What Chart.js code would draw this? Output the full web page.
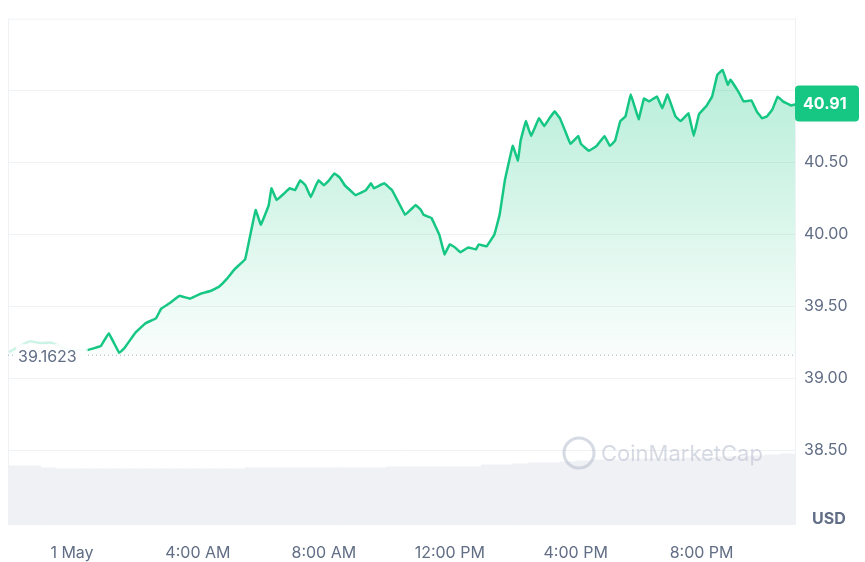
<!DOCTYPE html>
<html>
<head>
<meta charset="utf-8">
<script src="https://cdn.jsdelivr.net/npm/chart.js@4"></script>
<style>
  body { margin: 0; background: #fff; }
  #wrap { width: 865px; height: 562px; }
</style>
</head>
<body>
<div id="wrap"><canvas id="priceChart"></canvas></div>
<script>
// minutes from midnight, 1 May
const times = [-120, -100, -80, -60, -40, -20, 0, 30, 55, 70, 90, 100, 120, 140, 160, 170, 185, 205, 225, 245,
  265, 280, 295, 310, 330, 340, 350, 360, 375, 380, 390, 405, 415, 425, 435, 445, 455, 465, 470, 480,
  490, 500, 510, 520, 530, 540, 560, 570, 575, 595, 610, 620, 635, 645, 655, 665, 670, 685, 700, 710,
  720, 730, 740, 755, 770, 775, 790, 805, 815, 825, 840, 850, 855, 865, 875, 890, 900, 910, 920, 930,
  940, 950, 965, 970, 985, 1000, 1015, 1025, 1035, 1045, 1055, 1065, 1080, 1090, 1100, 1115, 1125, 1135, 1150, 1160,
  1175, 1185, 1195, 1210, 1220, 1230, 1240, 1250, 1255, 1270, 1280, 1295, 1305, 1315, 1325, 1335, 1345, 1355, 1370, 1380];
const prices = [39.185, 39.226, 39.260, 39.247, 39.25, 39.22, 39.20, 39.199, 39.226, 39.315, 39.178, 39.212, 39.315, 39.384, 39.418, 39.486, 39.521, 39.575, 39.555, 39.589,
  39.610, 39.637, 39.692, 39.760, 39.829, 40.000, 40.171, 40.068, 40.205, 40.322, 40.240, 40.288, 40.322, 40.308, 40.377, 40.342, 40.260, 40.342, 40.377, 40.342,
  40.377, 40.425, 40.397, 40.342, 40.308, 40.274, 40.308, 40.356, 40.322, 40.356, 40.308, 40.240, 40.137, 40.171, 40.205, 40.171, 40.137, 40.116, 40.000, 39.863,
  39.932, 39.911, 39.877, 39.911, 39.897, 39.932, 39.918, 40.000, 40.137, 40.377, 40.616, 40.514, 40.651, 40.788, 40.685, 40.808, 40.753, 40.808, 40.856, 40.808,
  40.719, 40.630, 40.685, 40.630, 40.582, 40.616, 40.685, 40.616, 40.651, 40.788, 40.822, 40.973, 40.801, 40.945, 40.925, 40.959, 40.877, 40.973, 40.822, 40.788,
  40.842, 40.685, 40.836, 40.897, 40.959, 41.110, 41.144, 41.041, 41.075, 40.993, 40.925, 40.932, 40.856, 40.808, 40.822, 40.870, 40.959, 40.925, 40.897, 40.904];
// volume, arbitrary units, one bar per 30 min
const volTimes = [];
for (let t = -105; t <= 1380; t += 30) volTimes.push(t);
const volumes = [59, 59, 57, 56, 56, 56, 56, 56, 56, 56, 56, 56, 56, 56, 56, 57, 57, 57, 57, 57,
  57, 57, 57, 57, 58, 58, 58, 58, 58, 58, 60, 60, 61, 62, 62, 63, 64, 65, 65, 66,
  66, 66, 66, 67, 67, 68, 68, 69, 70, 71];
const xTickLabels = { 0: "1 May", 240: "4:00 AM", 480: "8:00 AM", 720: "12:00 PM", 960: "4:00 PM", 1200: "8:00 PM" };
const openPrice = 39.1623;
const lastPrice = 40.91;

const GREEN = "#16c784";
const GREY = "#616e85";

const overlay = {
  id: "overlay",
  beforeDatasetsDraw(chart) {
    const { ctx, chartArea } = chart;
    ctx.save();
    ctx.strokeStyle = "#eff2f5";
    ctx.lineWidth = 1;
    ctx.strokeRect(chartArea.left + 0.5, chartArea.top + 0.5, chartArea.width, chartArea.height);
    ctx.restore();
  },
  afterDatasetsDraw(chart) {
    const { ctx, chartArea, scales } = chart;
    const y0 = scales.y.getPixelForValue(openPrice);
    ctx.save();
    // dotted open line
    ctx.strokeStyle = "#a6b0c3";
    ctx.setLineDash([1, 3]);
    ctx.lineWidth = 1;
    ctx.beginPath();
    ctx.moveTo(chartArea.left, y0);
    ctx.lineTo(chartArea.right, y0);
    ctx.stroke();
    ctx.setLineDash([]);
    ctx.fillStyle = "rgba(255,255,255,0.85)";
    ctx.fillRect(16, y0 - 11, 70, 20);
    ctx.fillStyle = GREY;
    ctx.font = "16px Inter, 'Noto Sans', sans-serif";
    ctx.textBaseline = "middle";
    ctx.fillText(openPrice.toFixed(4), 18, y0 + 2);
    // watermark
    ctx.fillStyle = "rgba(180,188,204,0.55)";
    ctx.font = "22px Inter, 'Noto Sans', sans-serif";
    ctx.fillText("CoinMarketCap", 601, 454);
    ctx.strokeStyle = "rgba(180,188,204,0.55)";
    ctx.lineWidth = 3;
    ctx.beginPath();
    ctx.arc(579, 453, 15, 0, Math.PI * 2);
    ctx.stroke();
    // last price tag
    const yl = scales.y.getPixelForValue(lastPrice);
    ctx.fillStyle = GREEN;
    ctx.beginPath();
    ctx.roundRect(795, yl - 18, 64, 36, 4);
    ctx.fill();
    ctx.fillStyle = "#fff";
    ctx.font = "bold 16px Inter, 'Noto Sans', sans-serif";
    ctx.fillText(lastPrice.toFixed(2), 803, yl + 1);
    // unit
    ctx.fillStyle = GREY;
    ctx.font = "bold 16px Inter, 'Noto Sans', sans-serif";
    ctx.fillText("USD", 812, 519);
    ctx.restore();
  }
};

document.addEventListener("DOMContentLoaded", function () {
  const canvas = document.getElementById("priceChart");
  const ctx = canvas.getContext("2d");
  const grad = ctx.createLinearGradient(0, 60, 0, 360);
  grad.addColorStop(0, "rgba(22,199,132,0.32)");
  grad.addColorStop(1, "rgba(22,199,132,0.02)");

  new Chart(ctx, {
    data: {
      datasets: [
        {
          type: "line",
          data: times.map((t, i) => ({ x: t, y: prices[i] })),
          borderColor: GREEN,
          borderWidth: 2.5,
          pointRadius: 0,
          tension: 0.05,
          fill: { target: { value: openPrice } },
          backgroundColor: grad,
          segment: {
            borderColor: (c) => (c.p1.parsed.x <= 30 ? "rgba(22,199,132,0.2)" : GREEN)
          },
          yAxisID: "y",
          order: 1
        },
        {
          type: "bar",
          data: volTimes.map((t, i) => ({ x: t, y: volumes[i] })),
          backgroundColor: "#f0f1f4",
          barPercentage: 1,
          categoryPercentage: 1,
          yAxisID: "yv",
          order: 2
        }
      ]
    },
    options: {
      responsive: true,
      maintainAspectRatio: false,
      animation: false,
      layout: { padding: { top: 12, left: 8 } },
      plugins: { legend: { display: false }, tooltip: { enabled: false } },
      scales: {
        x: {
          type: "linear",
          min: -122,
          max: 1378,
          offset: false,
          grid: { display: false },
          border: { color: "#eff2f5" },
          afterBuildTicks: (axis) => { axis.ticks = Object.keys(xTickLabels).map((v) => ({ value: +v })); },
          afterFit: (axis) => { axis.height = 38; },
          ticks: {
            color: GREY,
            font: { size: 16, family: "Inter, 'Noto Sans', sans-serif" },
            maxRotation: 0,
            padding: 12,
            callback: (v) => xTickLabels[v] || ""
          }
        },
        y: {
          position: "right",
          min: 37.99,
          max: 41.5,
          grid: { color: "#eff2f5", drawTicks: false },
          border: { color: "#eff2f5" },
          afterBuildTicks: (axis) => { axis.ticks = [38.5, 39, 39.5, 40, 40.5, 41].map((v) => ({ value: v })); },
          afterFit: (axis) => { axis.width = 70; },
          ticks: {
            color: GREY,
            padding: 9,
            font: { size: 16, family: "Inter, 'Noto Sans', sans-serif" },
            callback: (v) => (v === 41 ? "" : v.toFixed(2))
          }
        },
        yv: {
          display: false,
          min: 0,
          max: 512
        }
      }
    },
    plugins: [overlay]
  });
});
</script>
</body>
</html>
